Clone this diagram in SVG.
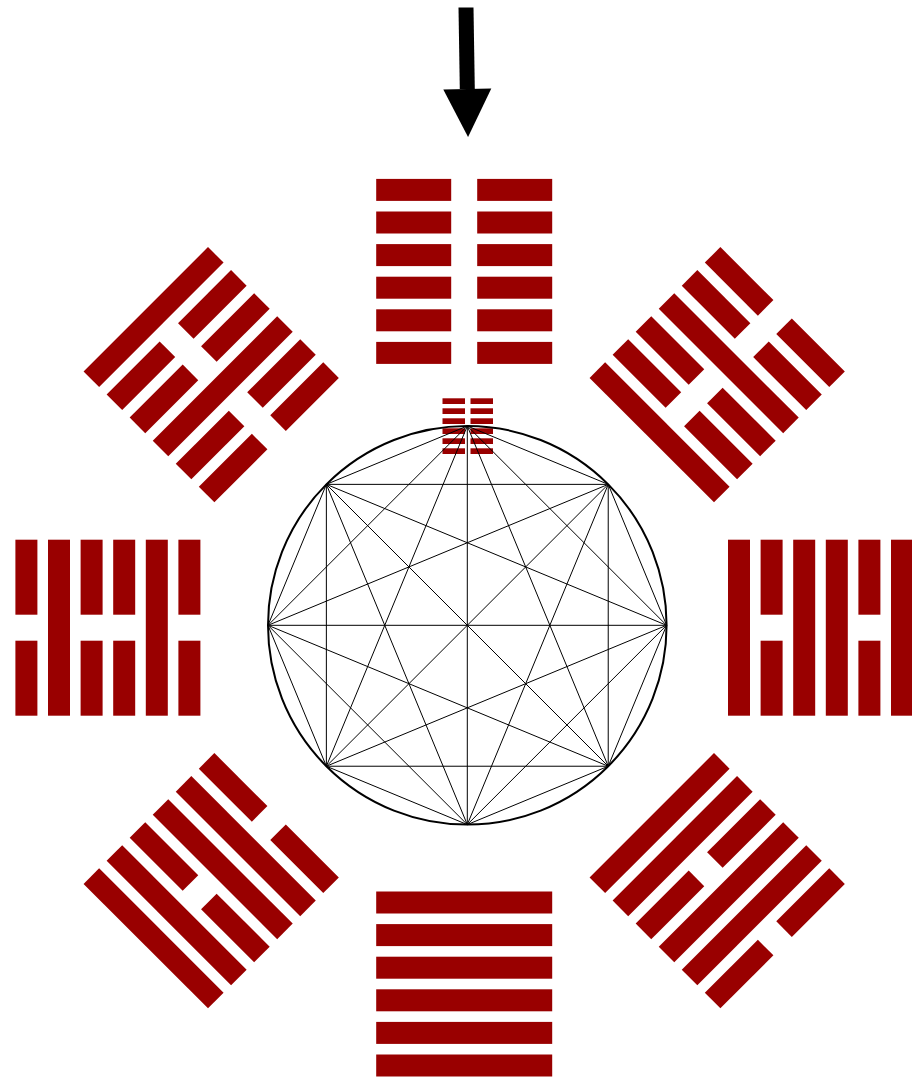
<svg xmlns="http://www.w3.org/2000/svg" width="912" height="1079" viewBox="0 0 912 1079">
<style>
.hex{fill:#990000}
.chords line{stroke:#000;stroke-width:1;fill:none}
.ring{fill:none;stroke:#000;stroke-width:2}
.arrow{stroke:#000;stroke-width:15;fill:none}
</style>
<defs>
<rect id="S" x="-88" width="176" height="22"/>
<g id="B"><rect x="-88" width="75" height="22"/><rect x="13" width="75" height="22"/></g>
<rect id="s" x="0" width="22.5" height="5.7"/>
<marker id="ah" markerUnits="userSpaceOnUse" markerWidth="48" markerHeight="48" refX="0" refY="24" orient="auto" overflow="visible"><path d="M0,0 L48,24 L0,48 Z" fill="#000"/></marker>
</defs>
<rect width="912" height="1079" fill="#fff"/>

<g id="hex-top" class="hex" transform="translate(464.2 627.7) rotate(0) translate(0 -356.3)">
<use href="#B" y="-92.5"/><use href="#B" y="-59.9"/><use href="#B" y="-27.3"/><use href="#B" y="5.3"/><use href="#B" y="37.9"/><use href="#B" y="70.5"/>
</g>
<g id="hex-upper-right" class="hex" transform="translate(464.2 627.7) rotate(45) translate(0 -357.8)">
<use href="#B" y="-92.5"/><use href="#B" y="-59.9"/><use href="#S" y="-27.3"/><use href="#B" y="5.3"/><use href="#B" y="37.9"/><use href="#S" y="70.5"/>
</g>
<g id="hex-right" class="hex" transform="translate(464.2 627.7) rotate(90) translate(0 -356.3)">
<use href="#S" y="-92.5"/><use href="#B" y="-59.9"/><use href="#S" y="-27.3"/><use href="#S" y="5.3"/><use href="#B" y="37.9"/><use href="#S" y="70.5"/>
</g>
<g id="hex-lower-right" class="hex" transform="translate(464.2 627.7) rotate(135) translate(0 -357.8)">
<use href="#B" y="-92.5"/><use href="#S" y="-59.9"/><use href="#S" y="-27.3"/><use href="#B" y="5.3"/><use href="#S" y="37.9"/><use href="#S" y="70.5"/>
</g>
<g id="hex-bottom" class="hex" transform="translate(464.2 627.7) rotate(180) translate(0 -356.3)">
<use href="#S" y="-92.5"/><use href="#S" y="-59.9"/><use href="#S" y="-27.3"/><use href="#S" y="5.3"/><use href="#S" y="37.9"/><use href="#S" y="70.5"/>
</g>
<g id="hex-lower-left" class="hex" transform="translate(464.2 627.7) rotate(225) translate(0 -357.8)">
<use href="#S" y="-92.5"/><use href="#S" y="-59.9"/><use href="#B" y="-27.3"/><use href="#S" y="5.3"/><use href="#S" y="37.9"/><use href="#B" y="70.5"/>
</g>
<g id="hex-left" class="hex" transform="translate(464.2 627.7) rotate(270) translate(0 -356.3)">
<use href="#B" y="-92.5"/><use href="#S" y="-59.9"/><use href="#B" y="-27.3"/><use href="#B" y="5.3"/><use href="#S" y="37.9"/><use href="#B" y="70.5"/>
</g>
<g id="hex-upper-left" class="hex" transform="translate(464.2 627.7) rotate(315) translate(0 -357.8)">
<use href="#S" y="-92.5"/><use href="#B" y="-59.9"/><use href="#B" y="-27.3"/><use href="#S" y="5.3"/><use href="#B" y="37.9"/><use href="#B" y="70.5"/>
</g>

<g id="hex-small" class="hex">
<use href="#s" x="442.5" y="398.3"/><use href="#s" x="470.5" y="398.3"/>
<use href="#s" x="442.5" y="408.3"/><use href="#s" x="470.5" y="408.3"/>
<use href="#s" x="442.5" y="418.3"/><use href="#s" x="470.5" y="418.3"/>
<use href="#s" x="442.5" y="428.3"/><use href="#s" x="470.5" y="428.3"/>
<use href="#s" x="442.5" y="438.3"/><use href="#s" x="470.5" y="438.3"/>
<use href="#s" x="442.5" y="448.3"/><use href="#s" x="470.5" y="448.3"/>
</g>

<g id="circle">
<circle class="ring" cx="467.3" cy="625.3" r="199.3"/>
</g>

<g id="connectors">
<g class="chords">
<line x1="467.3" y1="426" x2="608.23" y2="484.37"/>
<line x1="467.3" y1="426" x2="666.6" y2="625.3"/>
<line x1="467.3" y1="426" x2="608.23" y2="766.23"/>
<line x1="467.3" y1="426" x2="467.3" y2="824.6"/>
<line x1="467.3" y1="426" x2="326.37" y2="766.23"/>
<line x1="467.3" y1="426" x2="268" y2="625.3"/>
<line x1="467.3" y1="426" x2="326.37" y2="484.37"/>
<line x1="608.23" y1="484.37" x2="666.6" y2="625.3"/>
<line x1="608.23" y1="484.37" x2="608.23" y2="766.23"/>
<line x1="608.23" y1="484.37" x2="467.3" y2="824.6"/>
<line x1="608.23" y1="484.37" x2="326.37" y2="766.23"/>
<line x1="608.23" y1="484.37" x2="268" y2="625.3"/>
<line x1="608.23" y1="484.37" x2="326.37" y2="484.37"/>
<line x1="666.6" y1="625.3" x2="608.23" y2="766.23"/>
<line x1="666.6" y1="625.3" x2="467.3" y2="824.6"/>
<line x1="666.6" y1="625.3" x2="326.37" y2="766.23"/>
<line x1="666.6" y1="625.3" x2="268" y2="625.3"/>
<line x1="666.6" y1="625.3" x2="326.37" y2="484.37"/>
<line x1="608.23" y1="766.23" x2="467.3" y2="824.6"/>
<line x1="608.23" y1="766.23" x2="326.37" y2="766.23"/>
<line x1="608.23" y1="766.23" x2="268" y2="625.3"/>
<line x1="608.23" y1="766.23" x2="326.37" y2="484.37"/>
<line x1="467.3" y1="824.6" x2="326.37" y2="766.23"/>
<line x1="467.3" y1="824.6" x2="268" y2="625.3"/>
<line x1="467.3" y1="824.6" x2="326.37" y2="484.37"/>
<line x1="326.37" y1="766.23" x2="268" y2="625.3"/>
<line x1="326.37" y1="766.23" x2="326.37" y2="484.37"/>
<line x1="268" y1="625.3" x2="326.37" y2="484.37"/>
</g>
<path class="arrow" d="M466 7.5 L467.3 89" marker-end="url(#ah)"/>
</g>
</svg>
